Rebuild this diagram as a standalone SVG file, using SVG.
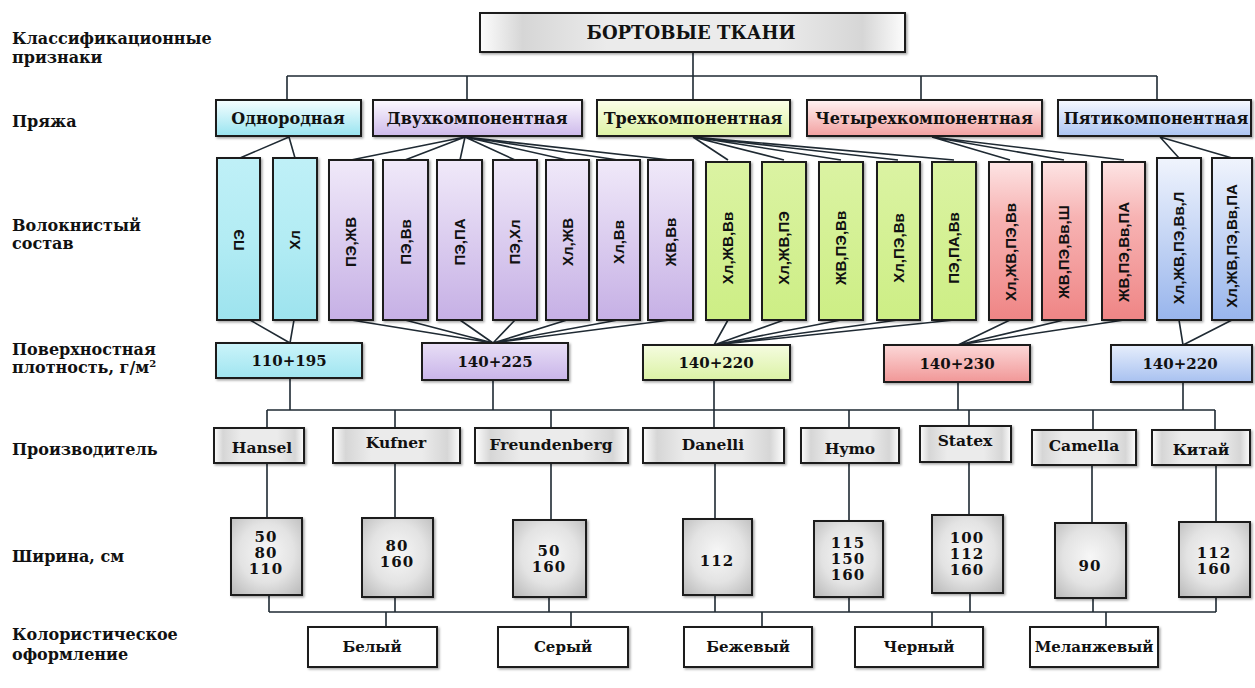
<svg xmlns="http://www.w3.org/2000/svg" width="1255" height="688" viewBox="0 0 1255 688">
<defs>
<style>
.lbl{font-family:"DejaVu Serif","Liberation Serif",serif;font-weight:bold;font-size:16px;fill:#111}
.st{font-family:"DejaVu Serif","Liberation Serif",serif;font-weight:bold;fill:#111;text-anchor:middle}
.num{font-family:"DejaVu Serif","Liberation Serif",serif;font-weight:bold;font-size:15px;letter-spacing:1px;fill:#111;text-anchor:middle}
.fib{font-family:"Liberation Sans",Arial,sans-serif;font-weight:bold;font-size:15px;fill:#111;text-anchor:middle}
.bx{stroke:#1c1c1c;stroke-width:2;filter:url(#sh)}
.cn{stroke:#1f2a33;stroke-width:1.6;fill:none}
</style>
<filter id="sh" x="-15%" y="-15%" width="140%" height="140%"><feDropShadow dx="1.5" dy="1.5" stdDeviation="1" flood-color="#000" flood-opacity="0.35"/></filter>
<linearGradient id="yC" x1="0" y1="0" x2="0" y2="1"><stop offset="0" stop-color="#f6feff"/><stop offset="1" stop-color="#98e4f0"/></linearGradient>
<linearGradient id="yP" x1="0" y1="0" x2="0" y2="1"><stop offset="0" stop-color="#fcf9ff"/><stop offset="1" stop-color="#cdb9ea"/></linearGradient>
<linearGradient id="yG" x1="0" y1="0" x2="0" y2="1"><stop offset="0" stop-color="#fbfee9"/><stop offset="1" stop-color="#ddf2a4"/></linearGradient>
<linearGradient id="yR" x1="0" y1="0" x2="0" y2="1"><stop offset="0" stop-color="#fff2f2"/><stop offset="1" stop-color="#f2a0a0"/></linearGradient>
<linearGradient id="yB" x1="0" y1="0" x2="0" y2="1"><stop offset="0" stop-color="#f7f9ff"/><stop offset="1" stop-color="#abc4f2"/></linearGradient>
<linearGradient id="fC" x1="0" y1="0" x2="0" y2="1"><stop offset="0" stop-color="#bff0f7"/><stop offset="0.5" stop-color="#b3ecf4"/><stop offset="1" stop-color="#9de3ee"/></linearGradient>
<linearGradient id="fP" x1="0" y1="0" x2="0" y2="1"><stop offset="0" stop-color="#f0e9f9"/><stop offset="1" stop-color="#c6b0e5"/></linearGradient>
<linearGradient id="fG" x1="0" y1="0" x2="0" y2="1"><stop offset="0" stop-color="#dbf3a3"/><stop offset="1" stop-color="#cdee85"/></linearGradient>
<linearGradient id="fR" x1="0" y1="0" x2="0" y2="1"><stop offset="0" stop-color="#fde4e4"/><stop offset="0.35" stop-color="#f7b3b3"/><stop offset="1" stop-color="#ef8585"/></linearGradient>
<linearGradient id="fB" x1="0" y1="0" x2="0" y2="1"><stop offset="0" stop-color="#f0f4fd"/><stop offset="1" stop-color="#98b5ec"/></linearGradient>
<linearGradient id="dC" x1="0" y1="0" x2="0" y2="1"><stop offset="0" stop-color="#cbf4fa"/><stop offset="1" stop-color="#a0e5f0"/></linearGradient>
<linearGradient id="dP" x1="0" y1="0" x2="0" y2="1"><stop offset="0" stop-color="#e8dff6"/><stop offset="1" stop-color="#c9b4e9"/></linearGradient>
<linearGradient id="dG" x1="0" y1="0" x2="0" y2="1"><stop offset="0" stop-color="#f5fce0"/><stop offset="1" stop-color="#dbf2a5"/></linearGradient>
<linearGradient id="dR" x1="0" y1="0" x2="0" y2="1"><stop offset="0" stop-color="#fcd8d8"/><stop offset="1" stop-color="#f19797"/></linearGradient>
<linearGradient id="dB" x1="0" y1="0" x2="0" y2="1"><stop offset="0" stop-color="#e6eefc"/><stop offset="1" stop-color="#a8c1f0"/></linearGradient>
<linearGradient id="gH" x1="0" y1="0" x2="1" y2="0"><stop offset="0" stop-color="#fdfdfd"/><stop offset="0.1" stop-color="#d6d6d6"/><stop offset="0.3" stop-color="#ebebeb"/><stop offset="0.7" stop-color="#ebebeb"/><stop offset="0.9" stop-color="#d6d6d6"/><stop offset="1" stop-color="#fdfdfd"/></linearGradient>
<radialGradient id="gW" cx="50%" cy="45%" r="70%"><stop offset="0" stop-color="#f7f7f7"/><stop offset="0.55" stop-color="#e3e3e3"/><stop offset="1" stop-color="#bcbcbc"/></radialGradient>
</defs>
<rect width="1255" height="688" fill="#ffffff"/>

<g id="labels">
<text class="lbl" x="12" y="44">Классификационные</text>
<text class="lbl" x="12" y="63">признаки</text>
<text class="lbl" x="12" y="127">Пряжа</text>
<text class="lbl" x="12" y="231">Волокнистый</text>
<text class="lbl" x="12" y="249">состав</text>
<text class="lbl" x="12" y="355">Поверхностная</text>
<text class="lbl" x="12" y="373">плотность, г/м<tspan font-size="10" dy="-6">2</tspan></text>
<text class="lbl" x="12" y="455">Производитель</text>
<text class="lbl" x="12" y="562">Ширина, см</text>
<text class="lbl" x="12" y="640">Колористическое</text>
<text class="lbl" x="12" y="660">оформление</text>
</g>

<g id="connectors">
<path class="cn" d="M693 52V100M287 76H1157M287 76V100M467 76V100M921 76V100M1157 76V100"/>
<path class="cn" d="M289 137L240 158M289 137L295 158"/>
<path class="cn" d="M465 137L351 160M465 137L405 160M465 137L460 160M465 137L515 160M465 137L567 160M465 137L618 160M465 137L670 160"/>
<path class="cn" d="M693 137L728 160M693 137L784 160M693 137L841 160M693 137L898 160M693 137L954 160"/>
<path class="cn" d="M932 137L1010 160M932 137L1064 160M932 137L1124 160"/>
<path class="cn" d="M1160 137L1179 158M1160 137L1232 158"/>
<path class="cn" d="M250 320L290 343M294 320L290 343"/>
<path class="cn" d="M351 320L493 343M405 320L493 343M460 320L493 343M515 320L493 343M567 320L493 343M618 320L493 343M670 320L493 343"/>
<path class="cn" d="M728 320L714 345M784 320L714 345M841 320L714 345M898 320L714 345M954 320L714 345"/>
<path class="cn" d="M1010 320L958 345M1064 320L958 345M1124 320L958 345"/>
<path class="cn" d="M1179 320L1183 345M1232 320L1183 345"/>
<path class="cn" d="M290 378V410M493 380V410M714 380V410M958 382V410M1183 382V410M267 410H1215"/>
<path class="cn" d="M267 410V428M395 410V428M551 410V428M714 410V428M849 410V428M969 410V426M1093 410V430M1215 410V430"/>
<path class="cn" d="M267 463V518M395 463V518M551 463V520M715 463V519M849 463V521M969 462V515M1092 465V523M1216 465V522"/>
<path class="cn" d="M269 595V612M395 597V612M549 597V612M715 595V612M849 597V612M970 593V612M1093 598V612M1216 597V612M269 612H1216"/>
<path class="cn" d="M386 612V627M571 612V627M762 612V627M932 612V627M1106 612V627"/>
</g>

<g id="n-root"><rect class="bx" x="480" y="13" width="425" height="39" fill="url(#gH)"/><text class="st" x="691" y="39" font-size="18">БОРТОВЫЕ  ТКАНИ</text></g>

<g id="n-yarn1"><rect class="bx" x="216" y="100" width="145" height="36" fill="url(#yC)"/><text class="st" x="288" y="124" font-size="16">Однородная</text></g>
<g id="n-yarn2"><rect class="bx" x="373" y="100" width="209" height="36" fill="url(#yP)"/><text class="st" x="477" y="124" font-size="16">Двухкомпонентная</text></g>
<g id="n-yarn3"><rect class="bx" x="597" y="100" width="193" height="36" fill="url(#yG)"/><text class="st" x="693" y="124" font-size="16">Трехкомпонентная</text></g>
<g id="n-yarn4"><rect class="bx" x="807" y="100" width="235" height="36" fill="url(#yR)"/><text class="st" x="924" y="124" font-size="16">Четырехкомпонентная</text></g>
<g id="n-yarn5"><rect class="bx" x="1058" y="100" width="193" height="36" fill="url(#yB)"/><text class="st" x="1156" y="124" font-size="16">Пятикомпонентная</text></g>

<g id="n-f1"><rect class="bx" x="217" y="158" width="43" height="162" fill="url(#fC)"/><text class="fib" transform="translate(238.5 240) rotate(-90)" dy="5">ПЭ</text></g>
<g id="n-f2"><rect class="bx" x="273" y="158" width="44" height="162" fill="url(#fC)"/><text class="fib" transform="translate(295 240) rotate(-90)" dy="5">Хл</text></g>
<g id="n-f3"><rect class="bx" x="329" y="160" width="44" height="160" fill="url(#fP)"/><text class="fib" transform="translate(351 242) rotate(-90)" dy="5">ПЭ,ЖВ</text></g>
<g id="n-f4"><rect class="bx" x="383" y="160" width="45" height="160" fill="url(#fP)"/><text class="fib" transform="translate(405.5 242) rotate(-90)" dy="5">ПЭ,Вв</text></g>
<g id="n-f5"><rect class="bx" x="437" y="160" width="45" height="160" fill="url(#fP)"/><text class="fib" transform="translate(459.5 242) rotate(-90)" dy="5">ПЭ,ПА</text></g>
<g id="n-f6"><rect class="bx" x="493" y="160" width="44" height="160" fill="url(#fP)"/><text class="fib" transform="translate(515 242) rotate(-90)" dy="5">ПЭ,Хл</text></g>
<g id="n-f7"><rect class="bx" x="546" y="160" width="43" height="160" fill="url(#fP)"/><text class="fib" transform="translate(567.5 242) rotate(-90)" dy="5">Хл,ЖВ</text></g>
<g id="n-f8"><rect class="bx" x="597" y="160" width="43" height="160" fill="url(#fP)"/><text class="fib" transform="translate(618.5 242) rotate(-90)" dy="5">Хл,Вв</text></g>
<g id="n-f9"><rect class="bx" x="648" y="160" width="45" height="160" fill="url(#fP)"/><text class="fib" transform="translate(670.5 242) rotate(-90)" dy="5">ЖВ,Вв</text></g>
<g id="n-f10"><rect class="bx" x="706" y="162" width="44" height="158" fill="url(#fG)"/><text class="fib" transform="translate(728 248) rotate(-90)" dy="5">Хл,ЖВ,Вв</text></g>
<g id="n-f11"><rect class="bx" x="762" y="162" width="44" height="158" fill="url(#fG)"/><text class="fib" transform="translate(784 248) rotate(-90)" dy="5">Хл,ЖВ,ПЭ</text></g>
<g id="n-f12"><rect class="bx" x="819" y="162" width="44" height="158" fill="url(#fG)"/><text class="fib" transform="translate(841 248) rotate(-90)" dy="5">ЖВ,ПЭ,Вв</text></g>
<g id="n-f13"><rect class="bx" x="877" y="162" width="43" height="158" fill="url(#fG)"/><text class="fib" transform="translate(898.5 248) rotate(-90)" dy="5">Хл,ПЭ,Вв</text></g>
<g id="n-f14"><rect class="bx" x="932" y="162" width="44" height="158" fill="url(#fG)"/><text class="fib" transform="translate(954 248) rotate(-90)" dy="5">ПЭ,ПА,Вв</text></g>
<g id="n-f15"><rect class="bx" x="989" y="162" width="43" height="158" fill="url(#fR)"/><text class="fib" transform="translate(1010.5 252) rotate(-90)" dy="5">Хл,ЖВ,ПЭ,Вв</text></g>
<g id="n-f16"><rect class="bx" x="1042" y="162" width="44" height="158" fill="url(#fR)"/><text class="fib" transform="translate(1064 252) rotate(-90)" dy="5">ЖВ,ПЭ,Вв,Ш</text></g>
<g id="n-f17"><rect class="bx" x="1102" y="162" width="43" height="158" fill="url(#fR)"/><text class="fib" transform="translate(1123.5 252) rotate(-90)" dy="5">ЖВ,ПЭ,Вв,ПА</text></g>
<g id="n-f18"><rect class="bx" x="1157" y="158" width="44" height="162" fill="url(#fB)"/><text class="fib" transform="translate(1179 248) rotate(-90)" dy="5">Хл,ЖВ,ПЭ,Вв,Л</text></g>
<g id="n-f19"><rect class="bx" x="1212" y="158" width="40" height="162" fill="url(#fB)"/><text class="fib" transform="translate(1232 246) rotate(-90)" dy="5">Хл,ЖВ,ПЭ,Вв,ПА</text></g>

<g id="n-d1"><rect class="bx" x="216" y="343" width="146" height="35" fill="url(#dC)"/><text class="st" x="289" y="366" font-size="15">110+195</text></g>
<g id="n-d2"><rect class="bx" x="422" y="343" width="146" height="37" fill="url(#dP)"/><text class="st" x="495" y="367" font-size="15">140+225</text></g>
<g id="n-d3"><rect class="bx" x="643" y="345" width="147" height="35" fill="url(#dG)"/><text class="st" x="716" y="368" font-size="15">140+220</text></g>
<g id="n-d4"><rect class="bx" x="884" y="345" width="146" height="37" fill="url(#dR)"/><text class="st" x="957" y="369" font-size="15">140+230</text></g>
<g id="n-d5"><rect class="bx" x="1111" y="345" width="141" height="37" fill="url(#dB)"/><text class="st" x="1180" y="369" font-size="15">140+220</text></g>

<g id="n-p1"><rect class="bx" x="214" y="428" width="90" height="35" fill="url(#gH)"/><text class="st" x="262" y="453" font-size="15.5">Hansel</text></g>
<g id="n-p2"><rect class="bx" x="333" y="428" width="127" height="35" fill="url(#gH)"/><text class="st" x="396" y="448" font-size="15.5">Kufner</text></g>
<g id="n-p3"><rect class="bx" x="475" y="428" width="153" height="35" fill="url(#gH)"/><text class="st" x="551" y="450" font-size="15.5">Freundenberg</text></g>
<g id="n-p4"><rect class="bx" x="643" y="428" width="141" height="35" fill="url(#gH)"/><text class="st" x="713" y="450" font-size="15.5">Danelli</text></g>
<g id="n-p5"><rect class="bx" x="801" y="428" width="98" height="35" fill="url(#gH)"/><text class="st" x="850" y="454" font-size="15.5">Hymo</text></g>
<g id="n-p6"><rect class="bx" x="920" y="426" width="91" height="36" fill="url(#gH)"/><text class="st" x="965" y="446" font-size="15.5">Statex</text></g>
<g id="n-p7"><rect class="bx" x="1032" y="430" width="104" height="35" fill="url(#gH)"/><text class="st" x="1084" y="451" font-size="15.5">Camella</text></g>
<g id="n-p8"><rect class="bx" x="1152" y="430" width="98" height="35" fill="url(#gH)"/><text class="st" x="1201" y="455" font-size="15.5">Китай</text></g>

<g id="n-w1"><rect class="bx" x="231" y="518" width="71" height="77" fill="url(#gW)"/><text class="num"><tspan x="266" y="542">50</tspan><tspan x="266" y="558">80</tspan><tspan x="266" y="574">110</tspan></text></g>
<g id="n-w2"><rect class="bx" x="362" y="518" width="71" height="79" fill="url(#gW)"/><text class="num"><tspan x="397" y="551">80</tspan><tspan x="397" y="567">160</tspan></text></g>
<g id="n-w3"><rect class="bx" x="513" y="520" width="73" height="77" fill="url(#gW)"/><text class="num"><tspan x="549" y="556">50</tspan><tspan x="549" y="572">160</tspan></text></g>
<g id="n-w4"><rect class="bx" x="683" y="519" width="69" height="76" fill="url(#gW)"/><text class="num"><tspan x="717" y="566">112</tspan></text></g>
<g id="n-w5"><rect class="bx" x="814" y="521" width="69" height="76" fill="url(#gW)"/><text class="num"><tspan x="848" y="548">115</tspan><tspan x="848" y="564">150</tspan><tspan x="848" y="580">160</tspan></text></g>
<g id="n-w6"><rect class="bx" x="932" y="515" width="71" height="78" fill="url(#gW)"/><text class="num"><tspan x="967" y="543">100</tspan><tspan x="967" y="559">112</tspan><tspan x="967" y="575">160</tspan></text></g>
<g id="n-w7"><rect class="bx" x="1055" y="523" width="71" height="75" fill="url(#gW)"/><text class="num"><tspan x="1090" y="571">90</tspan></text></g>
<g id="n-w8"><rect class="bx" x="1179" y="522" width="71" height="75" fill="url(#gW)"/><text class="num"><tspan x="1214" y="558">112</tspan><tspan x="1214" y="574">160</tspan></text></g>

<g id="n-c1"><rect class="bx" x="308" y="627" width="129" height="40" fill="#ffffff"/><text class="st" x="372" y="652" font-size="15">Белый</text></g>
<g id="n-c2"><rect class="bx" x="498" y="627" width="130" height="40" fill="#ffffff"/><text class="st" x="563" y="652" font-size="15">Серый</text></g>
<g id="n-c3"><rect class="bx" x="684" y="627" width="128" height="40" fill="#ffffff"/><text class="st" x="748" y="652" font-size="15">Бежевый</text></g>
<g id="n-c4"><rect class="bx" x="855" y="627" width="128" height="40" fill="#ffffff"/><text class="st" x="919" y="652" font-size="15">Черный</text></g>
<g id="n-c5"><rect class="bx" x="1030" y="627" width="128" height="40" fill="#ffffff"/><text class="st" x="1094" y="652" font-size="15">Меланжевый</text></g>
</svg>
